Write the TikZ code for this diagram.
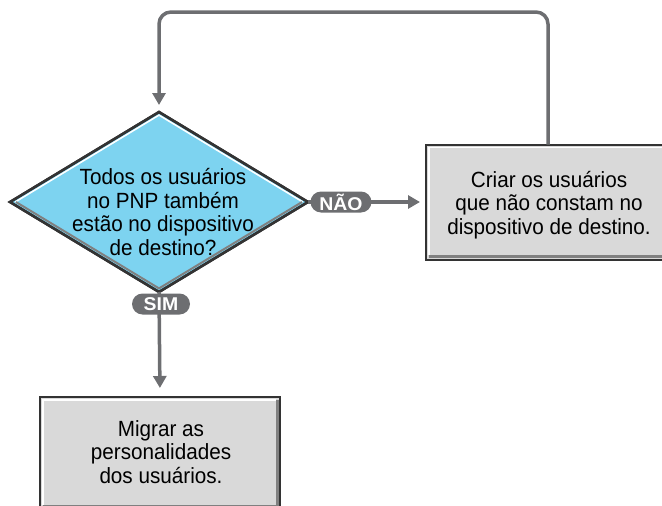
\documentclass[tikz,border=0pt]{standalone}
\usepackage{fontspec}
\setmainfont{Liberation Sans}
\newfontfamily\labelfont[FakeStretch=1.05]{Liberation Sans}
\newfontfamily\bodyfont[FakeStretch=0.94]{Liberation Sans}
\usetikzlibrary{shapes.geometric,arrows.meta,calc}
\definecolor{flowgray}{HTML}{6D6E71}
\definecolor{decblue}{HTML}{7DD3F0}
\definecolor{boxgray}{HTML}{D9D9D9}
\definecolor{edgedark}{HTML}{333333}
\definecolor{shadowgray}{HTML}{808080}
\begin{document}
\begin{tikzpicture}[x=1pt,y=-1pt,
  flow/.style={draw=flowgray,line width=3.5pt,-{Triangle[length=12pt,width=13pt]}},
  decision/.style={diamond,draw=edgedark,line width=2.5pt,fill=decblue,minimum width=298pt,minimum height=180pt,inner sep=0pt,outer sep=0pt},
  stepbox/.style={rectangle,draw=edgedark,line width=2pt,fill=boxgray,inner sep=0pt,outer sep=0pt},
  pill/.style={rectangle,rounded corners=10.5pt,fill=flowgray,minimum width=61pt,minimum height=21pt,inner sep=0pt,text=white,font=\labelfont\fontsize{18.5}{19}\selectfont\bfseries},
  txt/.style={align=center,font=\bodyfont\fontsize{22}{23.5}\selectfont},
  hilite/.style={draw=white,line width=1.5pt},
  shade/.style={draw=shadowgray,line width=3pt}]
\useasboundingbox (0,0) rectangle (662,506);
\clip (0,0) rectangle (662,506);

% nodes
\node[decision] (dec) at (159,202) {};
\node[txt] (dectext) at (163,212) {Todos os usuários\\no PNP também\\estão no dispositivo\\de destino?};
\node[stepbox,minimum width=244pt,minimum height=115pt] (crbox) at (548,202) {};
\node[txt] (crtext) at (549,205) {Criar os usuários\\que não constam no\\dispositivo de destino.};
\node[stepbox,minimum width=240pt,minimum height=112pt] (mgbox) at (160,453) {};
\node[txt] (mgtext) at (161,452) {Migrar as\\personalidades\\dos usuários.};

% bevels on diamond
\draw[hilite] ($(dec.center)!0.965!(dec.west)$) -- ($(dec.center)!0.965!(dec.north)$) -- ($(dec.center)!0.965!(dec.east)$);
\draw[draw=shadowgray,line width=2pt] ($(dec.center)!0.96!(dec.west)$) -- ($(dec.center)!0.96!(dec.south)$) -- ($(dec.center)!0.96!(dec.east)$);
\draw[edgedark,line width=2.5pt,line join=miter] (dec.west) -- (dec.north) -- (dec.east) -- (dec.south) -- cycle;

% bevels on boxes
\foreach \b in {crbox,mgbox}{
  \draw[shade] ($(\b.south west)+(2.5,-3)$) -- ($(\b.south east)+(-3,-3)$) -- ($(\b.north east)+(-3,3)$);
  \draw[hilite] ($(\b.south west)+(2.8,-4.5)$) -- ($(\b.north west)+(2.8,2.8)$) -- ($(\b.north east)+(-4.5,2.8)$);
  \draw[edgedark,line width=2pt] (\b.south west) rectangle (\b.north east);
}

% connectors
\draw[flow,rounded corners=12pt,shorten >=7pt] (crbox.north) |- ($(dec.north)+(0,-100)$) -- (dec.north);
\draw[flow,shorten >=6pt] (dec.east) -- (crbox.west);
\draw[flow,shorten >=9pt] (dec.south) -- (mgbox.north);

% labels
\node[pill] (nao) at (341,202) {NÃO};
\node[pill,minimum width=58pt] (sim) at (161,304) {SIM};
\end{tikzpicture}
\end{document}
